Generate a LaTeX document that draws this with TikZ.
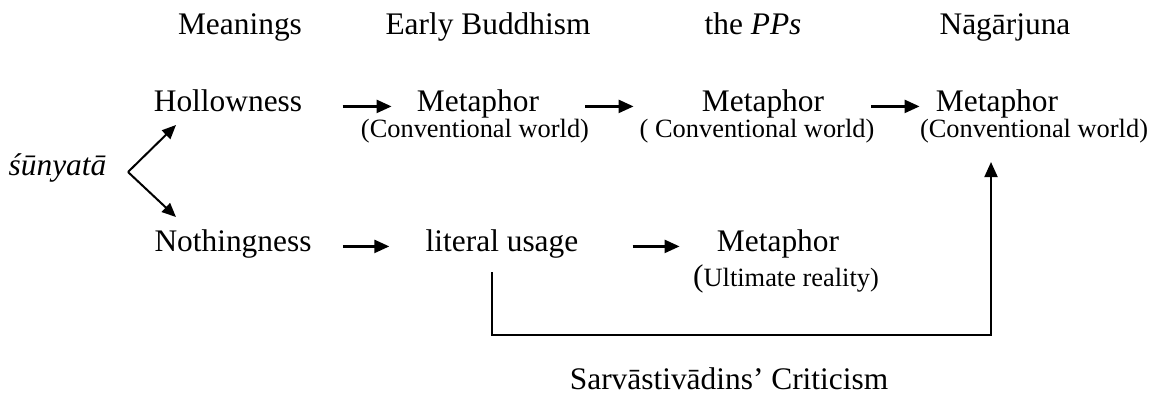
\documentclass[tikz,border=0pt]{standalone}
\usepackage{fontspec}
\setmainfont{Liberation Serif}
\usepackage{tikz}
\usetikzlibrary{positioning,arrows.meta,calc}

\newcommand{\bigsz}{\fontsize{15.7}{18}\selectfont}
\newcommand{\smallsz}{\fontsize{13.2}{15}\selectfont}

\begin{document}
\begin{tikzpicture}[x=0.5pt,y=-0.5pt,
    word/.style={anchor=base,inner sep=0pt,font=\bigsz},
    note/.style={anchor=base,inner sep=0pt,font=\smallsz},
    arr/.style={line width=1.2pt,-{Triangle[length=7.5pt,width=6.5pt]}},
    fork/.style={line width=1pt,-{Triangle[length=7pt,width=6pt]}}]
\useasboundingbox (0,0) rectangle (1159,397);

% column heads
\node[word] (hdA) at (240,34) {Meanings};
\node[word] (hdB) at (488,34) {Early Buddhism};
\node[word] (hdC) at (753,34) {the \textit{PPs}};
\node[word] (hdD) at (1005,34) {Nāgārjuna};

% the two meanings
\node[word] (sun) at (57.5,175) {\textit{śūnyatā}};
\node[word] (hol) at (228,111) {Hollowness};
\node[word] (noth) at (233,251) {Nothingness};

\coordinate (split) at (128,172);
\coordinate (holtip) at (176,125);
\coordinate (nothtip) at (176,217);
\draw[fork] (split) -- (holtip);
\draw[fork] (split) -- (nothtip);

% upper row
\node[word] (met1) at (478,111) {Metaphor};
\node[note] (conv1) at (475,137) {(Conventional world)};
\node[word] (met2) at (763,111) {Metaphor};
\node[note] (conv2) at (757,137) {( Conventional world)};
\node[word] (met3) at (997,111) {Metaphor};
\node[note] (conv3) at (1034,137) {(Conventional world)};

\draw[arr,shorten <=20pt,shorten >=12.5pt] (hol.mid east) -- (met1.mid west);
\draw[arr,shorten <=23pt,shorten >=34pt] (met1.mid east) -- (met2.mid west);
\draw[arr,shorten <=23.5pt,shorten >=8pt] (met2.mid east) -- (met3.mid west);

% lower row
\node[word] (lit) at (502,251) {literal usage};
\node[word] (met4) at (778,251) {Metaphor};
\node[note] (ult) at (786,286) {{\bigsz(}Ultimate reality)};

\draw[arr,shorten <=15.5pt,shorten >=18pt] (noth.mid east) -- (lit.mid west);
\draw[arr,shorten <=27pt,shorten >=18.5pt] (lit.mid east) -- (met4.mid west);

% criticism
\node[word] (crit) at (729,389) {Sarvāstivādins’ Criticism};
\coordinate (low) at (0,335);
\coordinate (tgt) at ([xshift=-3pt]met3.south |- conv3.south);
\draw[line width=1pt,-{Triangle[length=7.5pt,width=6.5pt]},shorten <=7pt,shorten >=9.5pt]
  ([xshift=-5pt]lit.south) |- (low -| tgt) -- (tgt);

\end{tikzpicture}
\end{document}
